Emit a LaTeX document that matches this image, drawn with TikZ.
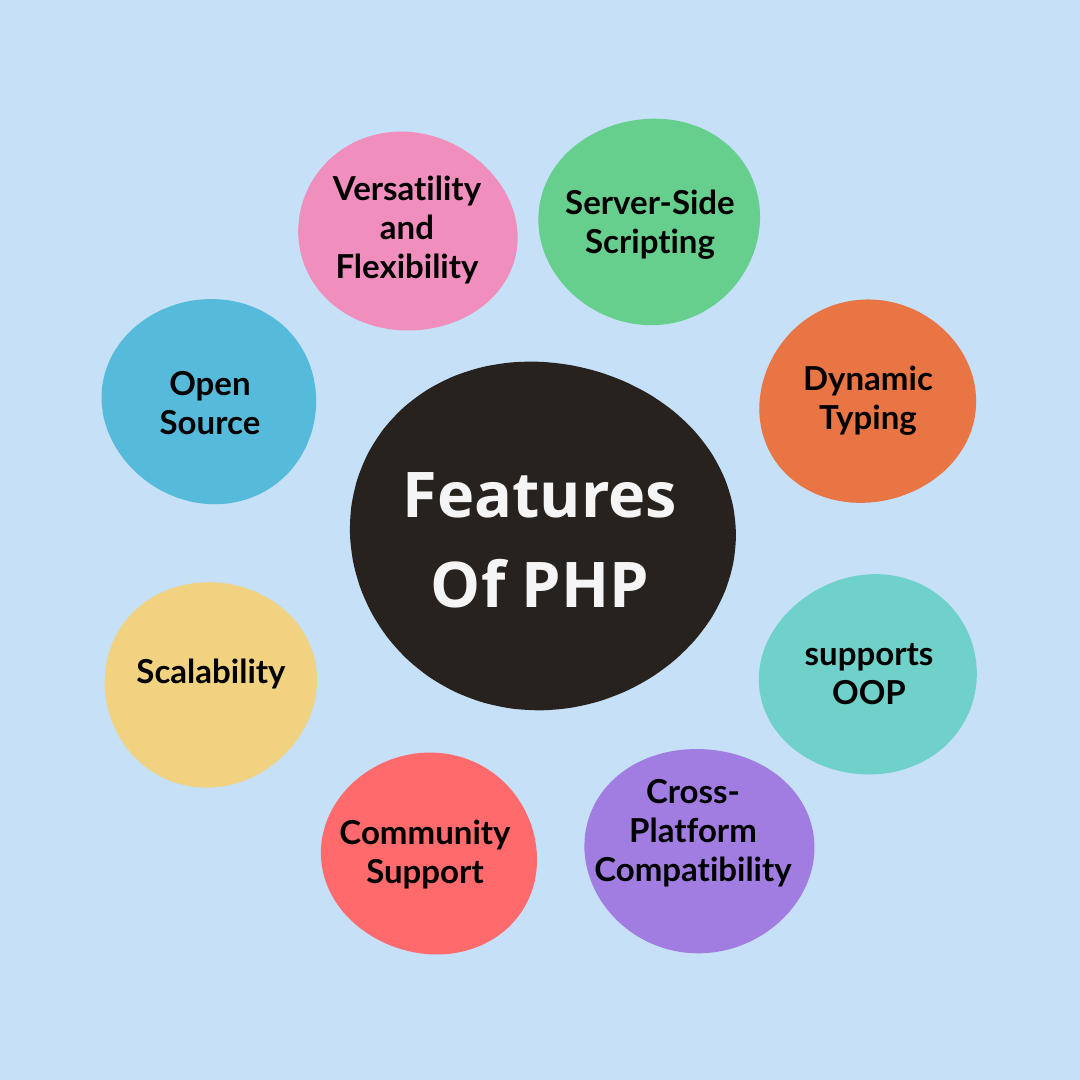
\documentclass[tikz,border=0pt]{standalone}
\usepackage{fontspec}
\newfontfamily\labfont[Ligatures=CommonOff]{Lato}
\newfontfamily\titfont{Open Sans}
\definecolor{bg}{HTML}{C5E0F7}
\definecolor{cpink}{HTML}{F08EBD}
\definecolor{cgreen}{HTML}{66CF8E}
\definecolor{corange}{HTML}{E97444}
\definecolor{cblue}{HTML}{56BBDB}
\definecolor{cdark}{HTML}{27221E}
\definecolor{cteal}{HTML}{6FD1C9}
\definecolor{cyellow}{HTML}{F1D281}
\definecolor{cred}{HTML}{FF6B6C}
\definecolor{cpurple}{HTML}{A17DE1}
\newcommand\myblob[6]{%
  \fill[#5] plot[smooth cycle, samples=40, domain=0:351, variable=\t]
   ({#1+#3*cos(\t)*(1+0.018*sin(2*\t+#6)+0.012*sin(3*\t+2*#6))},
    {#2+#4*sin(\t)*(1+0.018*sin(2*\t+#6)+0.012*sin(3*\t+2*#6))});}
\tikzset{
  lab/.style={align=center, text=black, font=\labfont\bfseries\fontsize{33}{39}\selectfont},
  tit/.style={align=center, text=white!96!black, font=\titfont\bfseries\fontsize{63}{90}\selectfont}
}
\begin{document}
\begin{tikzpicture}[x=1pt,y=-1pt]
\fill[bg] (0,0) rectangle (1080,1080);
\useasboundingbox (0,0) rectangle (1080,1080);
\myblob{407}{232}{109}{100}{cpink}{20}
\myblob{650}{221}{109}{105}{cgreen}{110}
\myblob{867}{402}{109}{101}{corange}{200}
\myblob{210}{401}{109}{101}{cblue}{300}
\myblob{541}{535}{190}{177}{cdark}{60}
\myblob{869}{675}{108}{101}{cteal}{150}
\myblob{210}{684}{108}{101}{cyellow}{250}
\myblob{430}{854}{109}{100}{cred}{330}
\myblob{699}{850}{113}{104}{cpurple}{80}
\node[tit] (title) at (540,540) {Features\\Of PHP};
\node[lab] (vers) at (407,230) {Versatility\\and\\Flexibility};
\node[lab] (serv) at (650,225) {Server-Side\\Scripting};
\node[lab] (open) at (210,403) {Open\\Source};
\node[lab] (dyn) at (868,401) {Dynamic\\Typing};
\node[lab] (scal) at (211,674) {Scalability};
\node[lab] (oop) at (869,674) {supports\\OOP};
\node[lab] (comm) at (425,855) {Community\\Support};
\node[lab] (cross) at (693,833) {Cross-\\Platform\\Compatibility};
\end{tikzpicture}
\end{document}
